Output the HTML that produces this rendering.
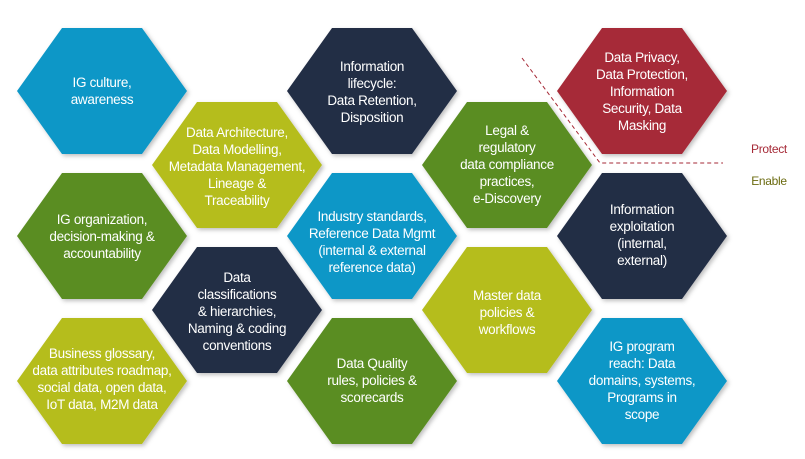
<!DOCTYPE html>
<html><head><meta charset="utf-8"><style>
html,body{margin:0;padding:0;background:#fff;width:805px;height:459px;overflow:hidden}
text{font-family:"Liberation Sans Narrow","Liberation Sans",sans-serif;font-size:13.5px;letter-spacing:-0.3px;fill:#fff;text-anchor:middle}
</style></head><body>
<svg width="805" height="459" viewBox="0 0 805 459" xmlns="http://www.w3.org/2000/svg">
<defs>
<filter id="sh" x="-10%" y="-10%" width="130%" height="130%"><feDropShadow dx="2" dy="2" stdDeviation="2" flood-color="#000" flood-opacity="0.25"/></filter>
<polygon id="hx" points="-85,0 -40,-63 40,-63 85,0 40,63 -40,63"/>
</defs>
<g filter="url(#sh)">
<use href="#hx" transform="translate(102,91)" fill="#0b97c7"/>
<use href="#hx" transform="translate(102,236)" fill="#5a8d22"/>
<use href="#hx" transform="translate(102,381)" fill="#b5bd1c"/>
<use href="#hx" transform="translate(237,165)" fill="#b5bd1c"/>
<use href="#hx" transform="translate(237,310)" fill="#232d45"/>
<use href="#hx" transform="translate(372,91)" fill="#232d45"/>
<use href="#hx" transform="translate(372,236)" fill="#0b97c7"/>
<use href="#hx" transform="translate(372,381)" fill="#5a8d22"/>
<use href="#hx" transform="translate(507,165)" fill="#5a8d22"/>
<use href="#hx" transform="translate(507,310)" fill="#b5bd1c"/>
<use href="#hx" transform="translate(642,91)" fill="#a62a37"/>
<use href="#hx" transform="translate(642,236)" fill="#232d45"/>
<use href="#hx" transform="translate(642,381)" fill="#0b97c7"/>
</g>
<path d="M522,58 L600,163 L723,163" fill="none" stroke="#a62a37" stroke-width="1" stroke-dasharray="4,3"/>
<text x="769" y="153" style="fill:#a62a37;font-size:12px">Protect</text>
<text x="769" y="185" style="fill:#6b6b10;font-size:12px">Enable</text>

<text x="102" y="87">IG culture,</text><text x="102" y="104">awareness</text>
<text x="102" y="224">IG organization,</text><text x="102" y="241">decision-making &amp;</text><text x="102" y="258">accountability</text>
<text x="102" y="358">Business glossary,</text><text x="102" y="375">data attributes roadmap,</text><text x="102" y="392">social data, open data,</text><text x="102" y="409">IoT data, M2M data</text>
<text x="237" y="137">Data Architecture,</text><text x="237" y="154">Data Modelling,</text><text x="237" y="171">Metadata Management,</text><text x="237" y="188">Lineage &amp;</text><text x="237" y="205">Traceability</text>
<text x="237" y="282">Data</text><text x="237" y="299">classifications</text><text x="237" y="316">&amp; hierarchies,</text><text x="237" y="333">Naming &amp; coding</text><text x="237" y="350">conventions</text>
<text x="372" y="71">Information</text><text x="372" y="88">lifecycle:</text><text x="372" y="105">Data Retention,</text><text x="372" y="122">Disposition</text>
<text x="372" y="221">Industry standards,</text><text x="372" y="238">Reference Data Mgmt</text><text x="372" y="255">(internal &amp; external</text><text x="372" y="272">reference data)</text>
<text x="372" y="368">Data Quality</text><text x="372" y="385">rules, policies &amp;</text><text x="372" y="402">scorecards</text>
<text x="507" y="135">Legal &amp;</text><text x="507" y="152">regulatory</text><text x="507" y="169">data compliance</text><text x="507" y="186">practices,</text><text x="507" y="203">e-Discovery</text>
<text x="507" y="300">Master data</text><text x="507" y="317">policies &amp;</text><text x="507" y="334">workflows</text>
<text x="642" y="62">Data Privacy,</text><text x="642" y="79">Data Protection,</text><text x="642" y="96">Information</text><text x="642" y="113">Security, Data</text><text x="642" y="130">Masking</text>
<text x="642" y="214">Information</text><text x="642" y="231">exploitation</text><text x="642" y="248">(internal,</text><text x="642" y="265">external)</text>
<text x="642" y="351">IG program</text><text x="642" y="368">reach: Data</text><text x="642" y="385">domains, systems,</text><text x="642" y="402">Programs in</text><text x="642" y="419">scope</text>
</svg>
</body></html>
